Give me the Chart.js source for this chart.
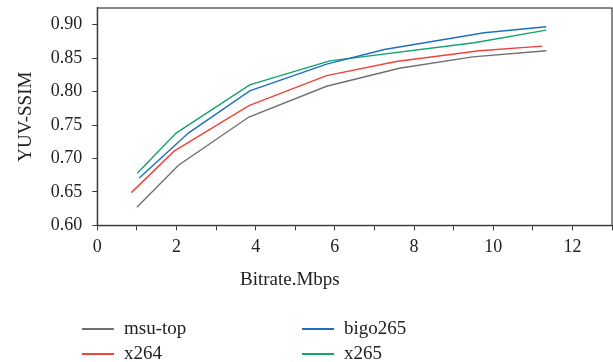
<!DOCTYPE html>
<html>
<head>
<meta charset="utf-8">
<script src="https://cdn.jsdelivr.net/npm/chart.js@4.4.0/dist/chart.umd.min.js"></script>
<style>
    body { margin: 0; background: #fff; }
    #wrap { position: relative; width: 613px; height: 362px; }
    #wrap canvas { position: absolute; left: 0; top: 0; }
    .txt { position: absolute; font-family: "Liberation Serif", "DejaVu Serif", serif; font-size: 19px; color: #222; white-space: nowrap; }
    .swatch { position: absolute; height: 2px; width: 32px; }
</style>
</head>
<body>
<div id="wrap">
    <canvas id="ssimChart" width="613" height="362"></canvas>
    <div class="txt" style="left:240px; top:268px;">Bitrate.Mbps</div>
    <div id="legend"></div>
</div>
<script>
// ================================
// YUV-SSIM vs bitrate
// ================================

const seriesNames = ["msu-top", "bigo265", "x264", "x265"];
const seriesColors = ["#707070", "#1f6fc0", "#f0433a", "#13a46c"];

const msuX  = [1.00, 2.05, 3.83, 5.79, 7.63, 9.48, 11.34];
const msuY  = [0.627, 0.690, 0.762, 0.808, 0.835, 0.852, 0.861];
const bigoX = [1.06, 2.30, 3.85, 5.79, 7.25, 9.77, 11.34];
const bigoY = [0.671, 0.738, 0.801, 0.841, 0.863, 0.888, 0.897];
const x264X = [0.86, 1.94, 3.83, 5.79, 7.55, 9.65, 11.24];
const x264Y = [0.649, 0.711, 0.779, 0.824, 0.845, 0.861, 0.868];
const x265X = [1.01, 1.99, 3.85, 5.87, 9.52, 11.34];
const x265Y = [0.678, 0.738, 0.810, 0.846, 0.873, 0.892];

const yTicksMajor = [0.60, 0.65, 0.70, 0.75, 0.80, 0.85, 0.90];
const xTicksMajor = [0, 2, 4, 6, 8, 10, 12];

const zip = (xs, ys) => xs.map((x, i) => ({ x: x, y: ys[i] }));
const seriesData = [zip(msuX, msuY), zip(bigoX, bigoY), zip(x264X, x264Y), zip(x265X, x265Y)];

const FONT = "'Liberation Serif', 'DejaVu Serif', serif";
const AXIS = "#3a3a3a";

/* ------------------------------
   full frame round the plot
------------------------------ */
const frame = {
    id: "frame",
    afterDraw(chart) {
        const a = chart.chartArea;
        const c = chart.ctx;
        c.save();
        c.strokeStyle = AXIS;
        c.lineWidth = 1.2;
        c.strokeRect(a.left, a.top, a.right - a.left, a.bottom - a.top);
        c.restore();
    }
};

const chart = new Chart(document.getElementById("ssimChart"), {
    type: "line",
    data: {
        datasets: seriesNames.map((name, i) => ({
            label: name,
            data: seriesData[i],
            borderColor: seriesColors[i],
            backgroundColor: seriesColors[i],
            borderWidth: 1.4,
            pointRadius: 0,
            tension: 0,
            fill: false
        }))
    },
    options: {
        responsive: false,
        animation: false,
        layout: { padding: { top: 8, right: 1, bottom: 98, left: 15 } },
        plugins: { legend: { display: false }, tooltip: { enabled: false } },
        scales: {
            x: {
                type: "linear",
                min: 0,
                max: 13,
                // last label is blank, let the plot run to the right edge
                afterFit: s => { s.paddingLeft = 0; s.paddingRight = 0; },
                border: { color: AXIS, width: 1.2 },
                grid: { drawOnChartArea: false, drawTicks: true, tickLength: 5, color: AXIS },
                ticks: {
                    stepSize: 1,
                    padding: 6,
                    color: "#222",
                    font: { family: FONT, size: 18 },
                    callback: v => xTicksMajor.includes(v) ? String(v) : ""
                }
            },
            y: {
                min: 0.6,
                max: 0.925,
                // the top label is blank, so no room is needed above the plot
                afterFit: s => { s.paddingTop = 0; s.paddingBottom = 0; },
                border: { color: AXIS, width: 1.2 },
                grid: { drawOnChartArea: false, drawTicks: true, tickLength: 5, color: AXIS },
                ticks: {
                    stepSize: 0.025,
                    padding: 10,
                    color: "#222",
                    font: { family: FONT, size: 18 },
                    callback: v => yTicksMajor.some(t => Math.abs(t - v) < 1e-6) ? v.toFixed(2) : ""
                },
                title: {
                    display: true,
                    text: "YUV-SSIM",
                    color: "#222",
                    font: { family: FONT, size: 19 },
                    padding: { top: 0, bottom: 3 }
                }
            }
        }
    },
    plugins: [frame]
});

/* ------------------------------
   legend, two columns
------------------------------ */
const legend = document.getElementById("legend");
const legendSpots = [[82, 317], [302, 317], [82, 342], [302, 342]];
chart.data.datasets.forEach((ds, i) => {
    const [lx, ly] = legendSpots[i];
    const sw = document.createElement("div");
    sw.className = "swatch";
    sw.style.left = lx + "px";
    sw.style.top = (ly + 11) + "px";
    sw.style.background = ds.borderColor;
    legend.appendChild(sw);
    const label = document.createElement("div");
    label.className = "txt";
    label.style.left = (lx + 42) + "px";
    label.style.top = ly + "px";
    label.textContent = ds.label;
    legend.appendChild(label);
});
</script>
</body>
</html>
